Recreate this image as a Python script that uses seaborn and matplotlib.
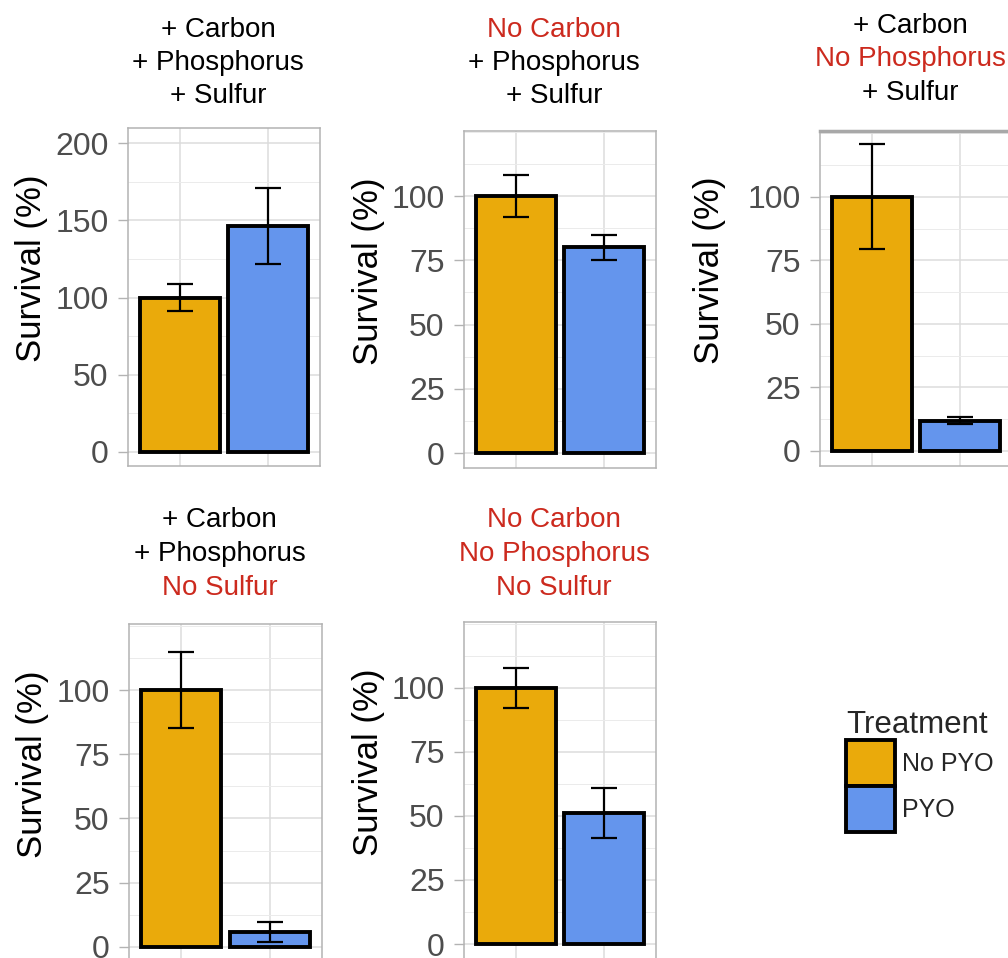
import pandas as pd
import seaborn as sns
import matplotlib.pyplot as plt
from matplotlib.patches import Patch
from matplotlib.ticker import MultipleLocator

# survival of each nutrient condition, mean and error half-width
panel_ids = ['CPS', 'noC', 'noP', 'noS', 'none']
no_pyo_mean = [100, 100, 100, 100, 100]
no_pyo_err = [8.7, 8.2, 20.7, 14.7, 7.8]
pyo_mean = [146.5, 80, 11.8, 5.7, 51.2]
pyo_err = [24.5, 4.7, 1.3, 3.8, 9.7]
treatments = ['No PYO', 'PYO']

title_lines = [
    ['+ Carbon', '+ Phosphorus', '+ Sulfur'],
    ['No Carbon', '+ Phosphorus', '+ Sulfur'],
    ['+ Carbon', 'No Phosphorus', '+ Sulfur'],
    ['+ Carbon', '+ Phosphorus', 'No Sulfur'],
    ['No Carbon', 'No Phosphorus', 'No Sulfur'],
]
y_ticks = [
    [0, 50, 100, 150, 200],
    [0, 25, 50, 75, 100],
    [0, 25, 50, 75, 100],
    [0, 25, 50, 75, 100],
    [0, 25, 50, 75, 100],
]

rows = []
for i, pid in enumerate(panel_ids):
    rows.append({'panel': pid, 'treatment': 'No PYO', 'survival': no_pyo_mean[i], 'err': no_pyo_err[i]})
    rows.append({'panel': pid, 'treatment': 'PYO', 'survival': pyo_mean[i], 'err': pyo_err[i]})
df = pd.DataFrame(rows)

palette = {'No PYO': '#EAAA0B', 'PYO': '#6495ED'}
red = '#CC2A1E'

sns.set_style('white')
plt.rcParams['font.family'] = ['Liberation Sans', 'DejaVu Sans']

W, H = 1008, 958
fig = plt.figure(figsize=(W / 100, H / 100), dpi=100)


def px_rect(x0, y0, x1, y1):
    return [x0 / W, 1 - y1 / H, (x1 - x0) / W, (y1 - y0) / H]


# axes boxes in pixels, y limits, title baseline offsets (px above axes top)
boxes = [(128, 128, 320, 466), (464, 131, 656, 468), (820, 131, 1012, 466),
         (129, 624, 322, 962), (464, 622, 656, 960)]
ylims = [(-9.1, 209.8), (-5.8, 125.3), (-6.0, 125.9), (-5.9, 125.7), (-6.2, 125.6)]
title_offsets = [(91, 58, 25), (94, 61, 28), (98, 65, 31), (97, 63, 29), (95, 61, 27)]

for i, pid in enumerate(panel_ids):
    ax = fig.add_axes(px_rect(*boxes[i]))
    sub = df[df['panel'] == pid]
    sns.barplot(data=sub, x='treatment', y='survival', hue='treatment', order=treatments,
                hue_order=treatments, palette=palette, saturation=1, width=0.9,
                edgecolor='black', linewidth=2.8, errorbar=None, legend=False, ax=ax, zorder=2)
    ax.errorbar(x=[0, 1], y=sub['survival'], yerr=sub['err'], fmt='none', ecolor='black',
                elinewidth=1.6, capsize=9.5, capthick=1.6, zorder=3)

    ax.set_xlim(-0.59, 1.59)
    ax.set_ylim(*ylims[i])
    ax.set_yticks(y_ticks[i])
    step = y_ticks[i][1] - y_ticks[i][0]
    ax.yaxis.set_minor_locator(MultipleLocator(step / 2))
    ax.set_axisbelow(True)
    ax.grid(which='major', axis='both', color='#DCDCDC', linewidth=1.1)
    ax.grid(which='minor', axis='y', color='#EBEBEB', linewidth=0.7)
    ax.tick_params(axis='y', which='major', labelsize=23, labelcolor='#4D4D4D', color='#B3B3B3',
                   length=7, width=1.0, pad=7, left=True)
    ax.tick_params(axis='y', which='minor', left=False)
    ax.tick_params(axis='x', bottom=False, labelbottom=False)
    ax.set_xlabel('')
    ax.set_ylabel('')
    for sp in ax.spines.values():
        sp.set_color('#B3B3B3')
        sp.set_linewidth(1.1)
    if pid == 'noP':
        ax.spines['top'].set_linewidth(2.5)
        ax.spines['top'].set_color('#A8A8A8')

    lab_x = -0.578 if pid == 'noP' else (-0.5 if pid in ('CPS', 'noS') else -0.495)
    ax.text(lab_x, 0.585, 'Survival (%)', transform=ax.transAxes, rotation=90,
            ha='center', va='center', fontsize=25, color='black')

    for line, off in zip(title_lines[i], title_offsets[i]):
        color = red if line.startswith('No') else 'black'
        ax.annotate(line, xy=(0.47, 1), xycoords='axes fraction', xytext=(0, off * 0.72),
                    textcoords='offset points', ha='center', va='baseline',
                    fontsize=20, color=color, annotation_clip=False)

handles = [Patch(facecolor=palette[t], edgecolor='black', linewidth=2.8, label=t) for t in treatments]
leg = fig.legend(handles=handles, title='Treatment', loc='upper left',
                 bbox_to_anchor=(846 / W, 1 - 710 / H), frameon=False, fontsize=18,
                 title_fontsize=22.5, handlelength=1.96, handleheight=2.45,
                 handletextpad=0.3, labelspacing=0.0, borderpad=0, borderaxespad=0,
                 alignment='left')

fig.savefig('out.png', dpi=100)
